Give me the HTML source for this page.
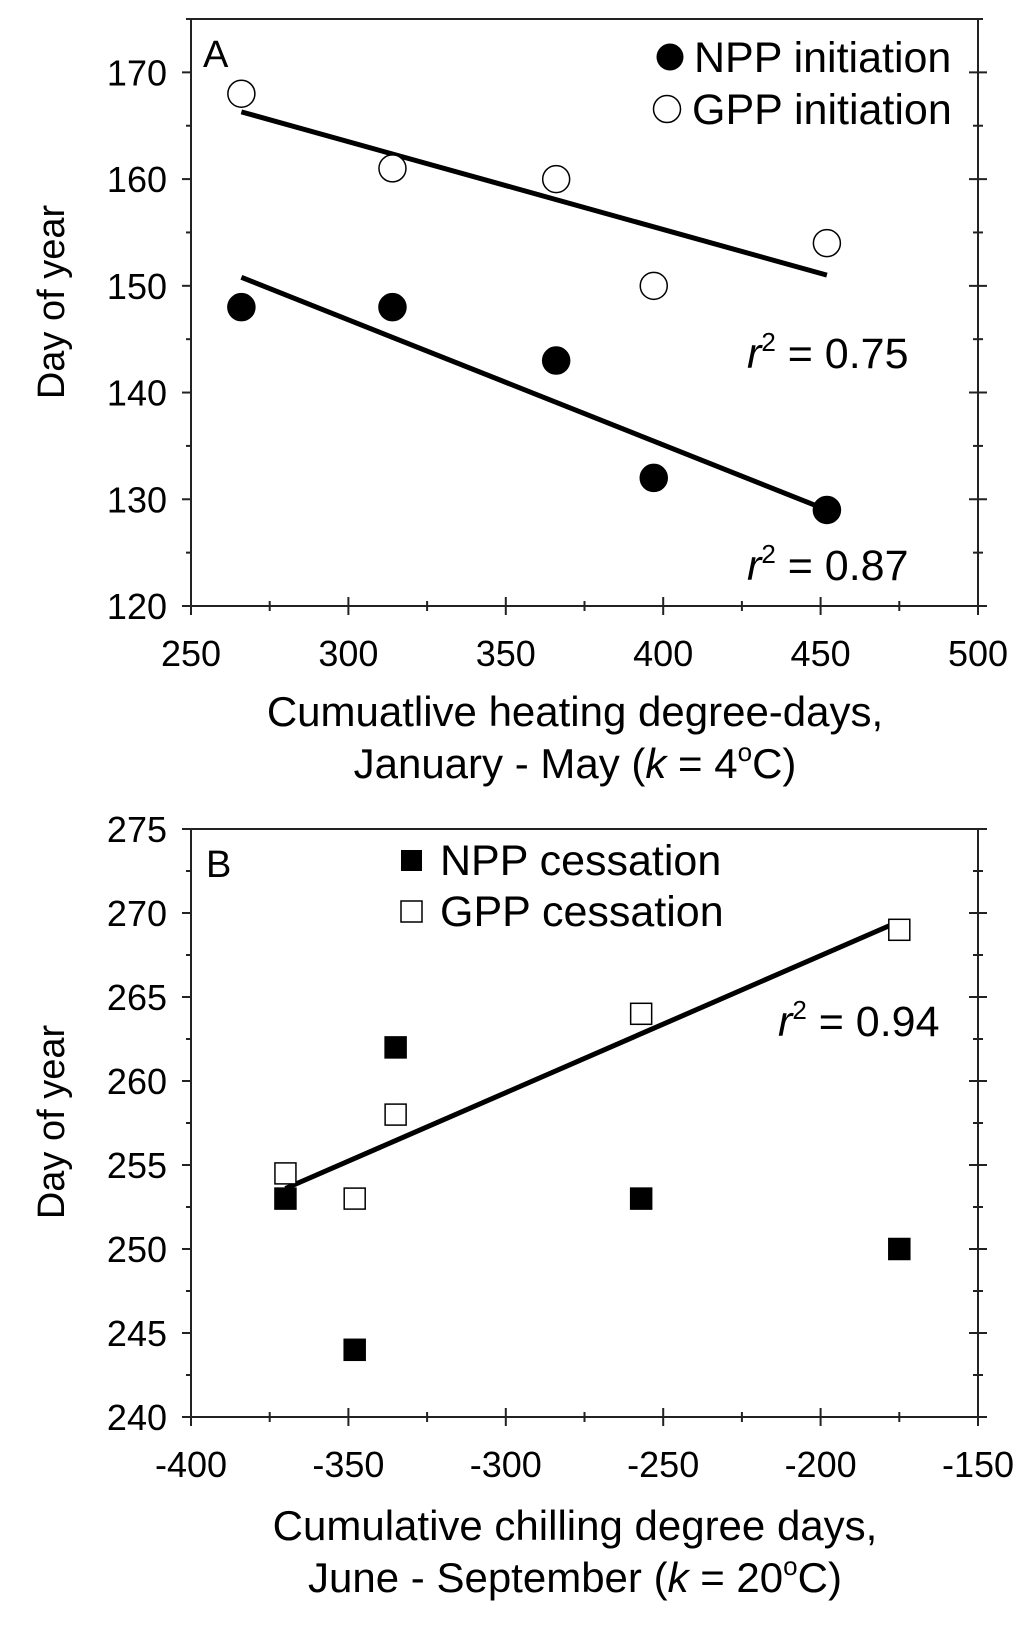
<!DOCTYPE html>
<html><head><meta charset="utf-8"><style>
html,body{margin:0;padding:0;background:#fff;}
svg text{font-family:"Liberation Sans",Arial,sans-serif;fill:#000;}
</style></head><body>
<svg id="chart" width="1024" height="1623" xmlns="http://www.w3.org/2000/svg"></svg>
<script>
const aX = [266, 314, 366, 397, 452];
const aGPP = [168, 161, 160, 150, 154];
const aNPP = [148, 148, 143, 132, 129];
const aGPPfit = [[266, 166.3], [452, 151]];
const aNPPfit = [[266, 150.8], [452, 129]];
const aXTicks = [250, 300, 350, 400, 450, 500];
const aYTicks = [120, 130, 140, 150, 160, 170];
const bX = [-370, -348, -335, -257, -175];
const bNPP = [253, 244, 262, 253, 250];
const bGPP = [254.5, 253, 258, 264, 269];
const bGPPfit = [[-370, 253.6], [-175, 269.5]];
const bXTicks = [-400, -350, -300, -250, -200, -150];
const bYTicks = [240, 245, 250, 255, 260, 265, 270, 275];

const svg = document.getElementById('chart');
const NS = 'http://www.w3.org/2000/svg';
function mk(tag, attrs, parent){const e=document.createElementNS(NS,tag);for(const k in attrs)e.setAttribute(k,attrs[k]);(parent||svg).appendChild(e);return e;}
function scale(d0,d1,r0,r1){return v=>r0+(v-d0)/(d1-d0)*(r1-r0);}

function panel(cfg){
  const g = mk('g',{});
  
  
  const sx = scale(cfg.xd[0],cfg.xd[1],191,978), sy = scale(cfg.yd[0],cfg.yd[1],cfg.bottom,cfg.top);
  const frame = mk('rect',{x:191,y:cfg.top,width:787,height:cfg.bottom-cfg.top,fill:'none',stroke:'#222','stroke-width':2},g);
  
  
  const yt = cfg.yticks; const ystep=(yt[1]-yt[0])/2;
  for(let v=cfg.yd[0]; v<=cfg.yd[1]+1e-9; v+=ystep){
    const y=sy(v); const major = Math.abs(((v-yt[0])/(yt[1]-yt[0]))%1)<1e-6;
    const L=major?9:5;
    mk('line',{x1:191-L,x2:191,y1:y,y2:y,stroke:'#222','stroke-width':2},g);
    mk('line',{x1:978-L,x2:978+L,y1:y,y2:y,stroke:'#222','stroke-width':2},g);
  }
  yt.forEach(v=>{const t=mk('text',{x:167,y:sy(v)+13,'text-anchor':'end','font-size':36},g);t.textContent=v;
    });
  const xt=cfg.xticks; const xstep=(xt[1]-xt[0])/2;
  for(let v=cfg.xd[0]; v<=cfg.xd[1]+1e-9; v+=xstep){
    const x=sx(v); const major=Math.abs(((v-xt[0])/(xt[1]-xt[0]))%1)<1e-6;
    mk('line',{x1:x,x2:x,y1:cfg.bottom-(major?9:5),y2:cfg.bottom+(major?9:5),stroke:'#222','stroke-width':2},g);
  }
  xt.forEach(v=>{const t=mk('text',{x:sx(v),y:cfg.bottom+60,'text-anchor':'middle','font-size':36},g);t.textContent=v;
    });
  cfg.fits.forEach(f=>{const l=mk('line',{x1:sx(f[0][0]),y1:sy(f[0][1]),x2:sx(f[1][0]),y2:sy(f[1][1]),stroke:'#000','stroke-width':5},g);
    });
  cfg.series.forEach(s=>{
    s.vals.forEach((v,i)=>{
      const x=sx(cfg.xs[i]), y=sy(v); let m;
      if(s.shape==='circle') m=mk('circle',{cx:x,cy:y,r:13.5,fill:s.fill,stroke:'#000','stroke-width':1.5},g);
      else m=mk('rect',{x:x-10.5,y:y-10.5,width:21,height:21,fill:s.fill,stroke:'#000','stroke-width':1.5},g);
      
      
    });
  });
  return g;
}

panel({name:'panel-a',xd:[250,500],yd:[120,175],top:19,bottom:606,xticks:aXTicks,yticks:aYTicks,xs:aX,
  fits:[aGPPfit,aNPPfit],
  series:[{vals:aGPP,shape:'circle',fill:'#fff',name:'gpp-initiation'},{vals:aNPP,shape:'circle',fill:'#000',name:'npp-initiation'}]});
panel({name:'panel-b',xd:[-400,-150],yd:[240,275],top:829,bottom:1417,xticks:bXTicks,yticks:bYTicks,xs:bX,
  fits:[bGPPfit],
  series:[{vals:bNPP,shape:'rect',fill:'#000',name:'npp-cessation'},{vals:bGPP,shape:'rect',fill:'#fff',name:'gpp-cessation'}]});
</script>
<svg width="1024" height="1623" style="position:absolute;left:0;top:0" xmlns="http://www.w3.org/2000/svg">
  <text x="203" y="67" font-size="38">A</text>
  <circle cx="670" cy="57" r="13.5" fill="#000"/>
  <text x="694" y="72" font-size="43">NPP initiation</text>
  <circle cx="667" cy="109" r="13.5" fill="#fff" stroke="#000" stroke-width="1.5"/>
  <text x="692" y="124" font-size="43">GPP initiation</text>
  <text x="747" y="368" font-size="43"><tspan font-style="italic">r</tspan><tspan font-size="26" dy="-17">2</tspan><tspan dy="17"> = 0.75</tspan></text>
  <text x="747" y="580" font-size="43"><tspan font-style="italic">r</tspan><tspan font-size="26" dy="-17">2</tspan><tspan dy="17"> = 0.87</tspan></text>
  <text transform="translate(64,302) rotate(-90)" text-anchor="middle" font-size="38">Day of year</text>
  <text x="575" y="726" text-anchor="middle" font-size="42">Cumuatlive heating degree-days,</text>
  <text x="575" y="778" text-anchor="middle" font-size="42">January - May (<tspan font-style="italic">k</tspan> = 4<tspan font-size="26" dy="-17">o</tspan><tspan dy="17">C)</tspan></text>

  <text x="206" y="877" font-size="38">B</text>
  <rect x="401" y="850" width="21" height="21" fill="#000"/>
  <text x="440" y="875" font-size="43">NPP cessation</text>
  <rect x="401" y="901" width="21" height="21" fill="#fff" stroke="#000" stroke-width="1.5"/>
  <text x="440" y="926" font-size="43">GPP cessation</text>
  <text x="778" y="1036" font-size="43"><tspan font-style="italic">r</tspan><tspan font-size="26" dy="-17">2</tspan><tspan dy="17"> = 0.94</tspan></text>
  <text transform="translate(64,1122) rotate(-90)" text-anchor="middle" font-size="38">Day of year</text>
  <text x="575" y="1540" text-anchor="middle" font-size="42">Cumulative chilling degree days,</text>
  <text x="575" y="1592" text-anchor="middle" font-size="42">June - September (<tspan font-style="italic">k</tspan> = 20<tspan font-size="26" dy="-17">o</tspan><tspan dy="17">C)</tspan></text>
</svg>
</body></html>
